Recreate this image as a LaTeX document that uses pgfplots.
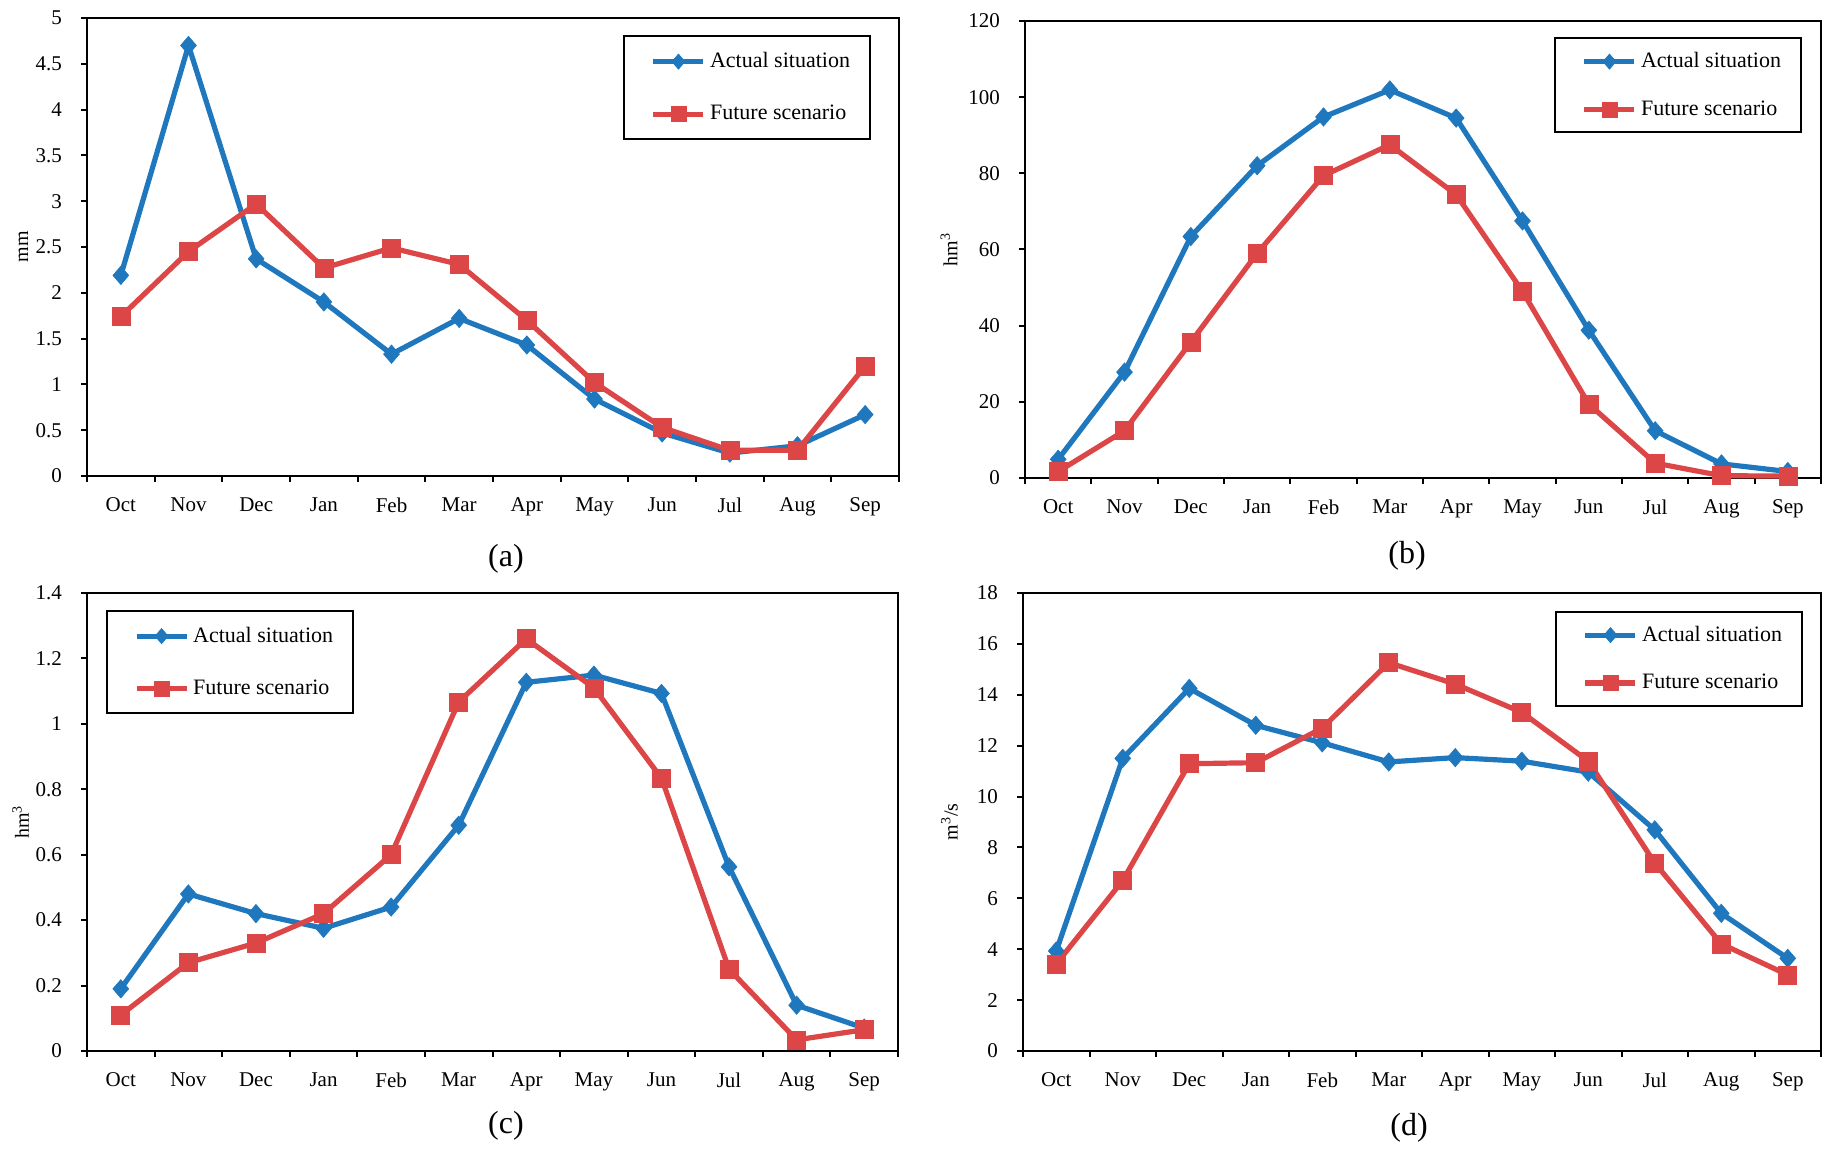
\documentclass[border=0pt]{standalone}
\usepackage{fontspec}
\setmainfont{Liberation Serif}
\usepackage{pgfplots}
\pgfplotsset{compat=1.18}
\definecolor{cblue}{RGB}{31,120,190}
\definecolor{cred}{RGB}{220,70,70}

\pgfplotsset{
  panel/.style={
    scale only axis,
    anchor=south west,
    xmin=0.5, xmax=12.5,
    xtick={0.5,1.5,...,12.5},
    x tick label as interval,
    xticklabels={Oct,Nov,Dec,Jan,Feb,Mar,Apr,May,Jun,Jul,Aug,Sep},
    tick align=outside,
    tick pos=left,
    major tick length=3pt,
    tick style={black, line width=1pt},
    axis line style={line width=1pt},
    /pgf/number format/assume math mode=true,
    tick label style={font=\fontsize{10.5}{12}\selectfont},
    xticklabel style={yshift=-4.2pt},
    yticklabel style={xshift=-6pt},
    ylabel style={font=\fontsize{10}{12}\selectfont, at={(axis description cs:#1,0.5)}, anchor=center},
    clip=false,
    legend cell align=left,
    legend style={draw=black, line width=1pt, font=\fontsize{11}{13}\selectfont, inner xsep=8pt, inner ysep=6pt, row sep=13.3pt},
    legend image code/.code={\path (-5.5pt,0pt); \draw[##1, mark size=3.8pt, mark repeat=2, mark phase=2] plot coordinates {(0pt,0pt)(12.5pt,0pt)(25pt,0pt)};},
  },
  narrowlegend/.style={legend style={row sep=11pt, inner ysep=5pt}},
  actual/.style={cblue, line width=2.6pt, mark=diamond*, mark size=4.6pt, mark options={solid, line width=0.3pt, xscale=1.15}},
  future/.style={cred, line width=2.6pt, mark=square*, mark size=4.5pt, mark options={solid, line width=0.3pt}},
}

\begin{document}
\begin{tikzpicture}
\useasboundingbox (0pt,0pt) rectangle (916.5pt,575pt);

% (a)
\begin{axis}[panel=-0.0782, at={(43.5pt,337pt)}, width=406pt, height=229pt,
  ymin=0, ymax=5, ytick={0,0.5,...,5}, ylabel={mm},
  legend style={at={(1,1)}, anchor=north east, xshift=-14pt, yshift=-8.75pt}]
\addplot[actual] coordinates {(1,2.19)(2,4.70)(3,2.37)(4,1.90)(5,1.33)(6,1.72)(7,1.43)(8,0.84)(9,0.47)(10,0.25)(11,0.33)(12,0.67)};
\addlegendentry{Actual situation}
\addplot[future] coordinates {(1,1.74)(2,2.45)(3,2.97)(4,2.27)(5,2.49)(6,2.31)(7,1.70)(8,1.02)(9,0.53)(10,0.28)(11,0.28)(12,1.20)};
\addlegendentry{Future scenario}
\end{axis}

% (b)
\begin{axis}[panel=-0.0955, narrowlegend, at={(512.5pt,336pt)}, width=398pt, height=228.5pt,
  ymin=0, ymax=120, ytick={0,20,...,120}, ylabel={hm\textsuperscript{3}},
  legend style={at={(1,1)}, anchor=north east, xshift=-9.5pt, yshift=-8.25pt}]
\addplot[actual] coordinates {(1,4.9)(2,27.8)(3,63.4)(4,82.0)(5,94.8)(6,101.9)(7,94.5)(8,67.5)(9,38.8)(10,12.4)(11,3.7)(12,1.7)};
\addlegendentry{Actual situation}
\addplot[future] coordinates {(1,1.7)(2,12.4)(3,35.7)(4,59.0)(5,79.4)(6,87.5)(7,74.4)(8,49.0)(9,19.4)(10,3.9)(11,0.6)(12,0.5)};
\addlegendentry{Future scenario}
\end{axis}

% (c)
\begin{axis}[panel=-0.0819, at={(43.5pt,49.5pt)}, width=405.5pt, height=229pt,
  ymin=0, ymax=1.4, ytick={0,0.2,0.4,0.6,0.8,1,1.2,1.4}, ylabel={hm\textsuperscript{3}},
  legend style={at={(0,1)}, anchor=north west, xshift=9.5pt, yshift=-8.5pt}]
\addplot[actual] coordinates {(1,0.19)(2,0.48)(3,0.42)(4,0.375)(5,0.44)(6,0.69)(7,1.127)(8,1.149)(9,1.093)(10,0.563)(11,0.14)(12,0.07)};
\addlegendentry{Actual situation}
\addplot[future] coordinates {(1,0.11)(2,0.27)(3,0.33)(4,0.42)(5,0.60)(6,1.067)(7,1.26)(8,1.11)(9,0.834)(10,0.25)(11,0.034)(12,0.065)};
\addlegendentry{Future scenario}
\end{axis}

% (d)
\begin{axis}[panel=-0.0921, narrowlegend, at={(511.5pt,49.5pt)}, width=399pt, height=229pt,
  ymin=0, ymax=18, ytick={0,2,...,18}, ylabel={m\textsuperscript{3}/s},
  legend style={at={(1,1)}, anchor=north east, xshift=-9pt, yshift=-9pt}]
\addplot[actual] coordinates {(1,3.93)(2,11.50)(3,14.25)(4,12.80)(5,12.11)(6,11.36)(7,11.53)(8,11.39)(9,10.96)(10,8.69)(11,5.41)(12,3.64)};
\addlegendentry{Actual situation}
\addplot[future] coordinates {(1,3.42)(2,6.70)(3,11.29)(4,11.33)(5,12.69)(6,15.26)(7,14.42)(8,13.31)(9,11.39)(10,7.39)(11,4.21)(12,2.99)};
\addlegendentry{Future scenario}
\end{axis}

\node[font=\fontsize{16}{19}\selectfont] at (253pt,295.5pt) {(a)};
\node[font=\fontsize{16}{19}\selectfont] at (703.5pt,297pt) {(b)};
\node[font=\fontsize{16}{19}\selectfont] at (253pt,12pt) {(c)};
\node[font=\fontsize{16}{19}\selectfont] at (704.5pt,11pt) {(d)};
\end{tikzpicture}
\end{document}
